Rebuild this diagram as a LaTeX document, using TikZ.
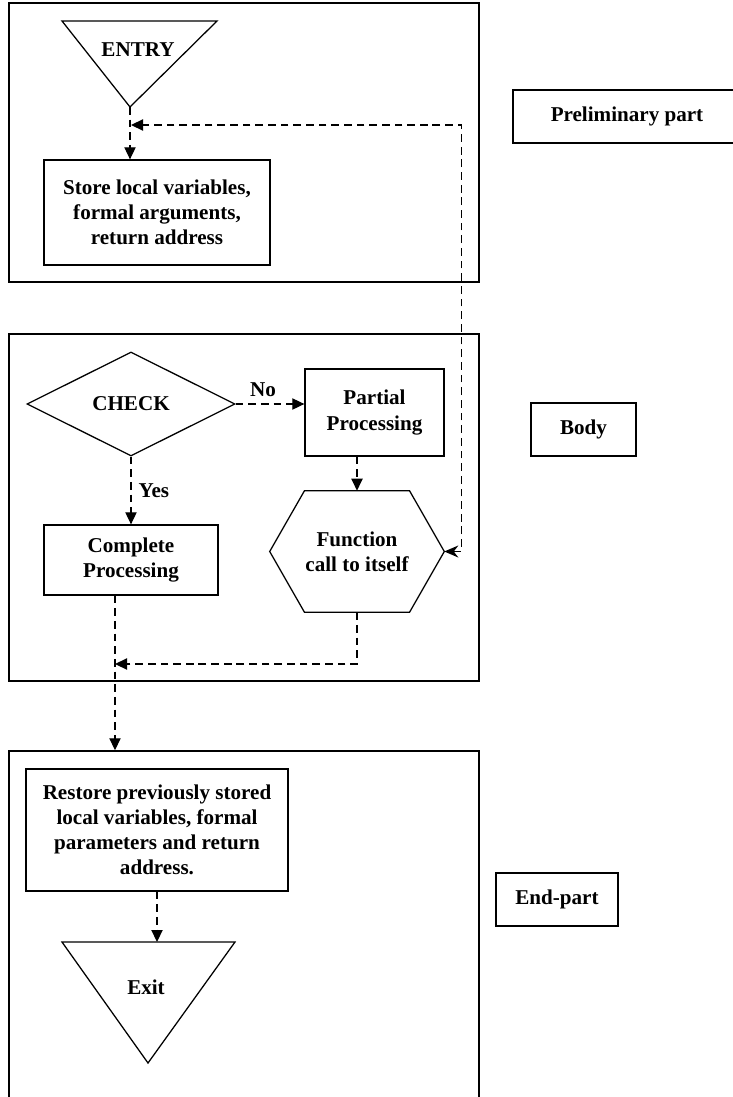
\documentclass[tikz,border=0pt]{standalone}
\usepackage{fontspec}
\setmainfont{Liberation Serif}
\usetikzlibrary{shapes.geometric,arrows.meta,positioning}

\begin{document}
\begin{tikzpicture}[x=0.025cm, y=-0.025cm,
  every node/.style={font=\fontsize{15}{17.8}\selectfont\bfseries, align=center, inner sep=0pt},
  frame/.style={draw, line width=1pt, rectangle, minimum width=11.75cm},
  box/.style={draw, line width=0.9pt, rectangle},
  lbl/.style={inner sep=5pt},
  outline/.style={line width=0.9pt, line join=miter},
  flow/.style={line width=0.9pt, dash pattern=on 5.5pt off 3.5pt, -{Triangle[length=0.3cm,width=0.28cm]}}]
  \useasboundingbox (0,0) rectangle (732,1097);

  % Frames
  \node[frame, minimum height=6.975cm] (prefr) at (244,142.5) {};
  \node[frame, minimum height=8.675cm] (bodyfr) at (244,507.5) {};
  \node[frame, minimum height=10cm] (endfr) at (244,951) {};

  % Side labels
  \node[box, minimum width=5.7cm, minimum height=1.325cm] (prelim) at (627,116.5) {Preliminary part};
  \node[box, minimum width=2.625cm, minimum height=1.325cm] (body) at (583.5,429.5) {Body};
  \node[box, minimum width=3.05cm, minimum height=1.325cm] (endpart) at (557,899.5) {End-part};

  % Preliminary part
  \coordinate (entry-tip) at (130,107);
  \draw[outline] (62,21) -- (217,21) -- (entry-tip) -- cycle;
  \node (entry) at (138,50) {ENTRY};
  \node[box, minimum width=5.65cm, minimum height=2.625cm] (store) at (157,212.5)
    {Store local variables,\\formal arguments,\\return address};
  \coordinate (merge) at (131,125);

  % Body
  \node[draw, diamond, aspect=2, line width=0.9pt, minimum width=5.2cm, minimum height=2.6cm] (check) at (131,404) {CHECK};
  \node[box, minimum width=3.475cm, minimum height=2.175cm] (partial) at (374.5,412.5) {Partial\\Processing};
  \node[box, minimum width=4.35cm, minimum height=1.75cm] (complete) at (131,560) {Complete\\Processing};
  \node[minimum width=4.35cm, minimum height=3.025cm] (call) at (357,551.5) {Function\\call to itself};
  \draw[outline] (call.west) -- ([xshift=-1.3125cm]call.north) -- ([xshift=1.3125cm]call.north)
    -- (call.east) -- ([xshift=1.3125cm]call.south) -- ([xshift=-1.3125cm]call.south) -- cycle;
  \coordinate (join) at (115,664);

  % End-part
  \node[box, minimum width=6.55cm, minimum height=3.05cm] (restore) at (157,830)
    {Restore previously stored\\local variables, formal\\parameters and return\\address.};
  \coordinate (exit-base) at (148,942);
  \coordinate (exit-tip) at (148,1063);
  \draw[outline] (62,942) -- (235,942) -- (exit-tip) -- cycle;
  \node (exit) at (146,987) {Exit};

  % Connectors
  \draw[flow] (entry-tip) -- (entry-tip |- store.north);
  \draw[flow] (check.east) -- node[pos=0.4, above, lbl] {No} (check.east -| partial.west);
  \draw[flow] (check.south) -- node[right, lbl] {Yes} (complete.north);
  \draw[flow] (call.north |- partial.south) -- (call.north);
  \draw[flow, {Stealth[length=0.35cm,width=0.3cm]}-{Triangle[length=0.3cm,width=0.28cm]}]
    (call.east) -- ++(17,0) |- (merge);
  \draw[flow] (call.south) |- (join);
  \draw[flow] (complete.south -| join) -- (join |- endfr.north);
  \draw[flow] (restore.south) -- (restore.south |- exit-base);
\end{tikzpicture}
\end{document}
